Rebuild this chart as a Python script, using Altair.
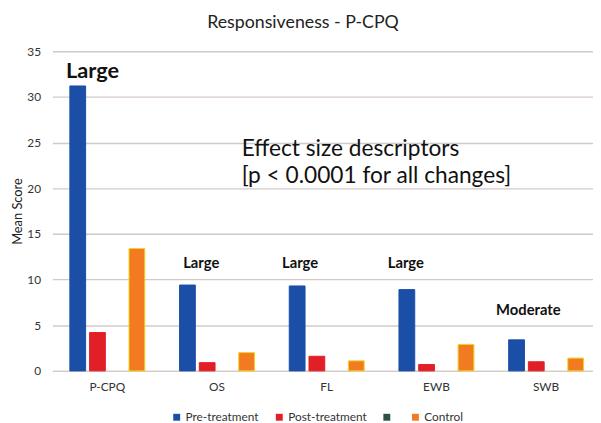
import altair as alt
import pandas as pd

categories = ["P-CPQ", "OS", "FL", "EWB", "SWB"]
series = ["Pre-treatment", "Post-treatment", " ", "Control"]
pre_treatment = [31.2, 9.4, 9.3, 8.9, 3.4]
post_treatment = [4.2, 0.9, 1.6, 0.7, 1.0]
control = [13.4, 2.0, 1.1, 2.9, 1.4]
colors = ["#1b4ea6", "#e21f26", "#2f4f4b", "#f27a21"]
strokes = ["#1b4ea6", "#e21f26", "#2f4f4b", "#f2d31f"]

ann_cats = ["P-CPQ", "OS", "FL", "EWB", "SWB"]
ann_text = ["Large", "Large", "Large", "Large", "Moderate"]
ann_y = [32.1, 11.3, 11.3, 11.3, 6.1]

note_lines = ["Effect size descriptors", "[p < 0.0001 for all changes]"]
note_cat = "OS"
note_y = 23.5

rows = []
for i, c in enumerate(categories):
    rows.append({"cat": c, "series": series[0], "value": pre_treatment[i]})
    rows.append({"cat": c, "series": series[1], "value": post_treatment[i]})
    rows.append({"cat": c, "series": series[3], "value": control[i]})
bars_df = pd.DataFrame(rows)

FONT = "Lato"

xscale = alt.Scale(domain=categories, paddingInner=0.317, paddingOuter=0.1225, align=0.65)
yscale = alt.Scale(domain=[0, 35], nice=False)

bars = alt.Chart(bars_df).mark_bar(strokeWidth=1).encode(
    x=alt.X("cat:N", scale=xscale, sort=categories,
            axis=alt.Axis(title=None, labelAngle=0, ticks=False, labelPadding=11,
                          labelFontSize=12, labelFont=FONT, labelColor="#333333",
                          domainColor="#d3cac7", domainWidth=1.3)),
    xOffset=alt.XOffset("series:N", scale=alt.Scale(domain=series, paddingInner=0.2, paddingOuter=0)),
    y=alt.Y("value:Q", scale=yscale,
            axis=alt.Axis(title="Mean Score", values=[0, 5, 10, 15, 20, 25, 30, 35],
                          ticks=False, domain=False, labelPadding=12, labelFontSize=12,
                          labelFont=FONT, labelColor="#333333", titleFont=FONT,
                          titleFontSize=13, titleFontWeight="normal", titleColor="#222222",
                          titlePadding=2, gridColor="#d3cac7", gridWidth=1.3)),
    color=alt.Color("series:N", scale=alt.Scale(domain=series, range=colors),
                    legend=alt.Legend(title=None, orient="none", legendX=120, legendY=365,
                                      direction="horizontal", symbolType="square",
                                      symbolSize=49, symbolStrokeWidth=0,
                                      labelFont=FONT, labelFontSize=12, labelColor="#333333",
                                      labelOffset=3, columnPadding=14, padding=0)),
    stroke=alt.Stroke("series:N", scale=alt.Scale(domain=series, range=strokes), legend=None),
)

layers = [bars]

ann_df = pd.DataFrame({"cat": ann_cats, "text": ann_text, "y": ann_y})
ann_dx = {"P-CPQ": -15, "OS": -16, "FL": -27, "EWB": -31, "SWB": -18}
ann_size = {"P-CPQ": 22}
for c in ann_cats:
    layers.append(
        alt.Chart(ann_df).transform_filter(alt.datum.cat == c).mark_text(
            font=FONT, fontWeight="bold", fontSize=ann_size.get(c, 15), color="#111111",
            dx=ann_dx[c], baseline="alphabetic", align="center"
        ).encode(
            x=alt.X("cat:N", scale=xscale, sort=categories),
            y=alt.Y("y:Q", scale=yscale),
            text="text:N",
        )
    )

note = alt.Chart(pd.DataFrame({"cat": [note_cat], "y": [note_y], "t": [note_lines]})).mark_text(
    font=FONT, fontSize=23, color="#111111", align="left", baseline="alphabetic",
    dx=25, lineHeight=27
).encode(
    x=alt.X("cat:N", scale=xscale, sort=categories),
    y=alt.Y("y:Q", scale=yscale),
    text="t",
)
layers.append(note)

chart = alt.layer(*layers).properties(
    width=548, height=324,
    autosize=alt.AutoSizeParams(type="none"),
    padding={"left": 45, "top": 41, "right": 0, "bottom": 52},
    title=alt.TitleParams("Responsiveness - P-CPQ", font=FONT, fontSize=18,
                          fontWeight="normal", color="#222222", anchor="middle",
                          dx=-20, offset=14),
).configure_view(stroke=None)

chart.save("out.html", embed_options={"renderer": "svg", "actions": False})
